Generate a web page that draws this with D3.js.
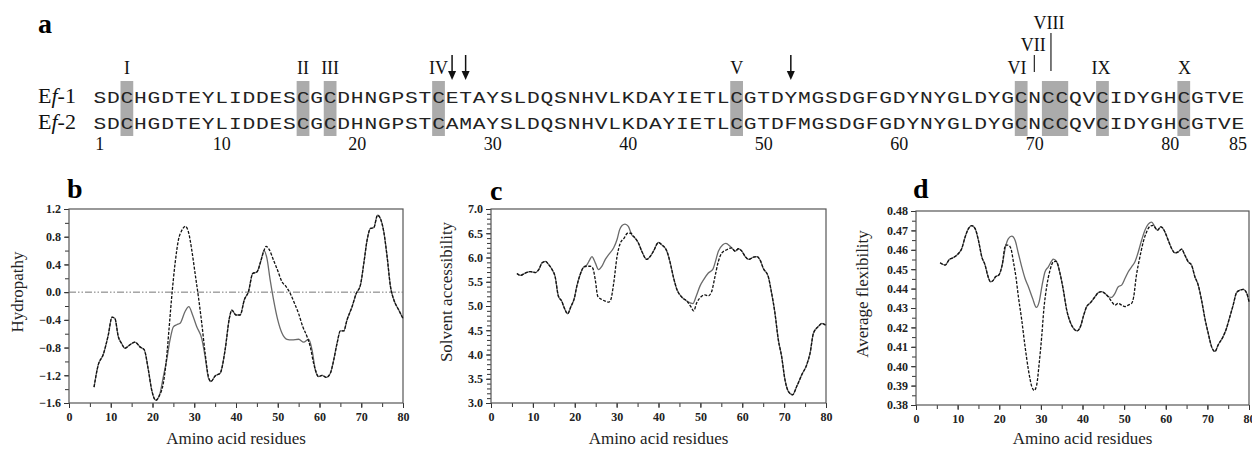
<!DOCTYPE html>
<html>
<head>
<meta charset="utf-8">
<script src="https://cdn.jsdelivr.net/npm/d3@7"></script>
<style>
  body { margin: 0; background: #fff; }
  svg { display: block; }
  .tick text { font-family: "Liberation Serif", serif; font-weight: bold; font-size: 12px; fill: #222; }
</style>
</head>
<body>
<div id="chart"></div>
<script>
// ---- panel a : sequence alignment ----
const seqEf1 = "SDCHGDTEYLIDDESCGCDHNGPSTCETAYSLDQSNHVLKDAYIETLCGTDYMGSDGFGDYNYGLDYGCNCCQVCIDYGHCGTVE";
const seqEf2 = "SDCHGDTEYLIDDESCGCDHNGPSTCAMAYSLDQSNHVLKDAYIETLCGTDFMGSDGFGDYNYGLDYGCNCCQVCIDYGHCGTVE";
const cysBoxes = [[3, 3], [16, 16], [18, 18], [26, 26], [48, 48], [69, 69], [71, 72], [75, 75], [81, 81]];
const romanLabels = ["I", "II", "III", "IV", "V", "VI", "VII", "VIII", "IX", "X"];
const romanPos = [3, 16, 18, 26, 48, 68.7, 69.9, 71.05, 74.9, 81.05];
const arrowPos = [27, 28, 52];
const seqNumbers = [1, 10, 20, 30, 40, 50, 60, 70, 80, 85];

// ---- panel b : hydropathy ----
const hydroEf1 = [[6,-1.37],[7,-1.05],[8.2,-0.9],[9.4,-0.62],[10.3,-0.36],[11,-0.38],[11.8,-0.64],[12.6,-0.74],
  [13.4,-0.81],[14.6,-0.76],[15.8,-0.72],[17,-0.79],[18,-0.83],[19,-1.12],[19.8,-1.41],[20.8,-1.56],[21.8,-1.46],
  [22.6,-1.22],[23.4,-0.98],[24.2,-0.69],[25,-0.5],[25.8,-0.47],[26.6,-0.45],[27.8,-0.28],[28.7,-0.21],[29.6,-0.33],
  [30.6,-0.5],[31.8,-0.67],[32.6,-0.93],[33.4,-1.24],[34,-1.29],[35,-1.21],[36.2,-1.17],[37.4,-0.83],[38.4,-0.38],
  [39,-0.26],[40,-0.33],[41,-0.33],[42,-0.11],[43,0.01],[44,0.27],[45,0.29],[46,0.46],[46.7,0.6],[47.4,0.49],
  [48.2,0.17],[49,-0.11],[50,-0.4],[51,-0.59],[52.2,-0.68],[53.4,-0.69],[55,-0.68],[56.2,-0.72],[57.4,-0.68],
  [58.2,-0.83],[59,-1.12],[59.8,-1.22],[60.6,-1.2],[61.6,-1.23],[62.6,-1.17],[63.4,-0.98],[64.2,-0.74],[65,-0.56],
  [65.8,-0.56],[66.6,-0.4],[67.8,-0.21],[68.8,-0.02],[69.8,0.1],[70.6,0.41],[71.4,0.75],[72.2,0.92],[73,0.93],
  [73.9,1.11],[74.6,1.06],[75.4,0.87],[76.2,0.51],[77,0.08],[77.8,-0.11],[79,-0.26],[80,-0.38]];
const hydroEf2Diff = [[21.6,-1.5],[22.6,-1.31],[23.4,-0.93],[24,-0.5],[24.6,-0.07],[25.4,0.41],[26.2,0.75],
  [27,0.89],[27.9,0.95],[28.6,0.87],[29.4,0.61],[30.2,0.27],[31,-0.07],[31.8,-0.45],[32.6,-0.88],[33.4,-1.22],
  [47.2,0.66],[48,0.61],[49,0.46],[50,0.31],[51,0.15],[52,0.08],[53,-0.02],[54,-0.16],[55,-0.31],[56,-0.5],
  [57,-0.64],[57.8,-0.79],[58.6,-1.03]];
const hydroYTicks = [-1.6, -1.2, -0.8, -0.4, 0.0, 0.4, 0.8, 1.2];

// ---- panel c : solvent accessibility ----
const solvEf1 = [[6.2,5.67],[7,5.63],[8.2,5.68],[9.4,5.71],[10.6,5.69],[11.4,5.75],[12.2,5.89],[13,5.92],[13.8,5.85],
  [14.6,5.75],[15.3,5.61],[16.1,5.2],[16.9,5.1],[17.5,4.96],[18.3,4.84],[19.1,4.99],[19.9,5.16],[20.5,5.41],
  [21.3,5.65],[22.1,5.8],[22.9,5.85],[23.5,5.94],[24.1,6.02],[24.9,5.89],[25.7,5.75],[26.5,5.82],[27.3,5.96],
  [28.1,6.06],[29.3,6.2],[30.1,6.37],[30.7,6.57],[31.3,6.66],[32,6.69],[32.8,6.64],[33.6,6.47],[34.4,6.4],
  [35.2,6.3],[36,6.13],[37.2,5.96],[38,6.02],[38.8,6.13],[40,6.31],[40.8,6.26],[42,6.13],[42.8,5.89],[43.6,5.58],
  [44.4,5.34],[45.6,5.18],[46.8,5.1],[47.7,5.06],[48.2,5.05],[49,5.2],[49.9,5.41],[50.9,5.56],[51.9,5.68],[53,5.76],
  [53.5,5.89],[54.3,6.13],[55.3,6.26],[56.1,6.29],[57.1,6.23],[57.9,6.16],[58.3,6.13],[59.1,6.18],[59.9,6.13],
  [60.7,6.02],[61.5,5.96],[62.7,6.01],[63.5,6.02],[64.3,5.94],[65,5.78],[66.2,5.61],[67,5.27],[67.8,4.86],
  [68.6,4.31],[69.4,3.96],[70.2,3.48],[71,3.24],[72,3.17],[73,3.34],[74.2,3.58],[75.4,3.79],[76.2,4.03],[77,4.44],
  [78.2,4.58],[79,4.64],[80,4.6]];
const solvEf2Diff = [[22.9,5.82],[23.7,5.82],[24.3,5.78],[24.9,5.54],[25.5,5.2],[26.5,5.13],[27.3,5.1],[28.1,5.08],
  [28.6,5.13],[29.3,5.47],[30.1,6.02],[30.9,6.3],[31.8,6.4],[32.6,6.5],[33.4,6.5],[34,6.44],
  [47.7,4.99],[48.4,4.9],[49.1,5.06],[50.3,5.2],[51.1,5.23],[51.9,5.21],[52.7,5.3],[53.5,5.61],[54.3,5.92],
  [55.1,6.09],[56.3,6.16],[57.5,6.2]];
const solvYTicks = [3.0, 3.5, 4.0, 4.5, 5.0, 5.5, 6.0, 6.5, 7.0];

// ---- panel d : average flexibility ----
const flexEf1 = [[5.8,0.4533],[7,0.4521],[8,0.455],[9,0.456],[10.2,0.4581],[11,0.4607],[11.8,0.4666],[12.6,0.4709],
  [13.4,0.4725],[14.2,0.4709],[15,0.4649],[15.8,0.4564],[16.6,0.4521],[17.2,0.447],[17.9,0.4435],[18.6,0.4444],
  [19.1,0.4461],[19.9,0.447],[20.7,0.4521],[21.5,0.4615],[22.2,0.4658],[23,0.467],[23.8,0.4649],[24.6,0.4581],
  [25.4,0.4512],[26.2,0.4452],[27,0.441],[28,0.435],[28.9,0.4303],[29.6,0.4333],[30.3,0.4418],[31,0.4487],
  [31.8,0.4512],[32.6,0.4543],[33,0.4552],[33.8,0.4538],[34.6,0.4478],[35.4,0.4392],[36.2,0.429],[37,0.423],
  [37.8,0.4196],[38.7,0.4182],[39.5,0.4204],[40.3,0.4264],[41,0.4307],[41.9,0.4327],[43,0.4358],[43.8,0.4379],
  [44.6,0.4384],[45.4,0.4375],[46.2,0.4358],[47,0.4355],[47.8,0.4375],[48.6,0.441],[49.4,0.4418],[50.2,0.4452],
  [51,0.4487],[51.8,0.4512],[52.6,0.4538],[53.4,0.4589],[54.2,0.4649],[55,0.4701],[55.8,0.4732],[56.6,0.4743],
  [57.4,0.4718],[58,0.4701],[58.8,0.4718],[59.2,0.4714],[59.8,0.4692],[60.6,0.4649],[61.4,0.4607],[62.2,0.4584],
  [63,0.4589],[63.8,0.4603],[64.6,0.4572],[65.4,0.4538],[66.2,0.4521],[67,0.4461],[67.8,0.4418],[68.6,0.4341],
  [69.4,0.4247],[70.2,0.417],[71,0.4101],[71.8,0.4076],[72.6,0.411],[73.8,0.4153],[74.6,0.4196],[75.4,0.4255],
  [76.2,0.4315],[77,0.4379],[77.8,0.4392],[78.6,0.4396],[79.4,0.4379],[80,0.4333]];
const flexEf2Diff = [[21.5,0.4624],[22.2,0.4624],[22.8,0.4607],[23.4,0.4538],[24,0.4461],[24.6,0.4358],[25.4,0.4238],
  [26.2,0.4101],[27,0.3982],[27.8,0.3896],[28.4,0.3875],[29,0.3904],[29.6,0.4016],[30.2,0.4153],[30.7,0.429],
  [31.4,0.441],[32.2,0.4495],[33,0.4538],[33.6,0.4541],
  [47,0.4333],[47.8,0.4315],[48.6,0.4324],[49.4,0.4315],[50.2,0.4307],[51,0.4315],[51.8,0.4324],[52.3,0.4358],
  [52.9,0.4461],[53.8,0.4564],[54.6,0.4641],[55.4,0.4692],[56.2,0.4721],[57,0.4726],[57.6,0.4709]];
const flexYTicks = [0.38, 0.39, 0.40, 0.41, 0.42, 0.43, 0.44, 0.45, 0.46, 0.47, 0.48];

const xTicks = [0, 10, 20, 30, 40, 50, 60, 70, 80];

// Ef-2 = Ef-1 outside the differing stretches, own values inside them
function mergeSeries(base, diff) {
  // group diff into runs separated by a gap > 3 residues
  let runs = [], cur = [diff[0]];
  for (let i = 1; i < diff.length; i++) {
    if (diff[i][0] - diff[i - 1][0] > 3) { runs.push(cur); cur = []; }
    cur.push(diff[i]);
  }
  runs.push(cur);
  let kept = base.filter(p => !runs.some(r => p[0] >= r[0][0] && p[0] <= r[r.length - 1][0]));
  return kept.concat(diff).sort((a, b) => a[0] - b[0]);
}

const W = 1252, H = 450;
const svg = d3.select("#chart").append("svg").attr("width", W).attr("height", H);
const serif = "'Liberation Serif', 'Times New Roman', serif";

// ---------- panel a ----------
const seqX = d3.scaleLinear().domain([0, 85]).range([93, 93 + 85 * 13.55]);
const cx = i => seqX(i - 0.5);
const gA = svg.append("g");

gA.append("text").attr("x", 38).attr("y", 33).style("font-family", serif).style("font-weight", "bold")
  .style("font-size", "28px").text("a");

gA.selectAll("rect.box").data(cysBoxes).enter().append("rect")
  .attr("class", "box")
  .attr("x", d => seqX(d[0] - 1) + 0.4)
  .attr("width", d => seqX(d[1]) - seqX(d[0] - 1) - 0.8)
  .attr("y", 81).attr("height", 55)
  .attr("fill", "#ababab");

[[seqEf1, 103, "1"], [seqEf2, 129, "2"]].forEach(([seq, yb, n]) => {
  const lab = gA.append("text").attr("x", 38).attr("y", yb).style("font-family", serif)
    .style("font-size", "22px").attr("fill", "#111");
  lab.append("tspan").text("E");
  lab.append("tspan").style("font-style", "italic").text("f");
  lab.append("tspan").text("-" + n);

  gA.selectAll(null).data(seq.split("")).enter().append("text")
    .attr("transform", (d, i) => `translate(${cx(i + 1)},${yb}) scale(1.25,1)`)
    .attr("text-anchor", "middle")
    .style("font-family", "'Liberation Mono', 'Courier New', monospace")
    .style("font-size", "17px")
    .attr("fill", "#222")
    .text(d => d);
});

gA.selectAll("text.num").data(seqNumbers).enter().append("text")
  .attr("class", "num")
  .attr("x", d => cx(d)).attr("y", 150)
  .attr("text-anchor", "middle")
  .style("font-family", serif).style("font-size", "18px").attr("fill", "#111")
  .text(d => d);

const romanY = { "VII": 51, "VIII": 29 };
gA.selectAll("text.roman").data(romanLabels).enter().append("text")
  .attr("class", "roman")
  .attr("x", (d, i) => cx(romanPos[i]))
  .attr("y", d => romanY[d] || 74)
  .attr("text-anchor", "middle")
  .style("font-family", serif).style("font-size", "18px").attr("fill", "#111")
  .text(d => d);

// leader lines for VII and VIII
gA.append("line").attr("x1", cx(romanPos[6]) + 1).attr("x2", cx(romanPos[6]) + 1)
  .attr("y1", 55).attr("y2", 72).attr("stroke", "#333").attr("stroke-width", 1.3);
gA.append("line").attr("x1", cx(romanPos[7]) + 2).attr("x2", cx(romanPos[7]) + 2)
  .attr("y1", 33).attr("y2", 71).attr("stroke", "#333").attr("stroke-width", 1.3);

// arrows
const arr = gA.selectAll("g.arrow").data(arrowPos).enter().append("g")
  .attr("transform", d => `translate(${cx(d)},0)`);
arr.append("line").attr("x1", 0).attr("x2", 0).attr("y1", 55).attr("y2", 74)
  .attr("stroke", "#111").attr("stroke-width", 1.5);
arr.append("path").attr("d", "M-4,71 L4,71 L0,80 Z").attr("fill", "#111");

// ---------- line panels ----------
const panels = [
  { letter: "b", ef1: hydroEf1, ef2: hydroEf2Diff, yDomain: [-1.6, 1.2], yTicks: hydroYTicks, minor: 0.2,
    fmt: d3.format(".1f"), left: 69, right: 403, top: 209, bottom: 403, ylabel: "Hydropathy", ylabX: 18,
    letterX: 67, letterY: 198, zero: true },
  { letter: "c", ef1: solvEf1, ef2: solvEf2Diff, yDomain: [3.0, 7.0], yTicks: solvYTicks, minor: 0.1,
    fmt: d3.format(".1f"), left: 491, right: 826, top: 209, bottom: 403, ylabel: "Solvent accessibility", ylabX: 447,
    letterX: 490, letterY: 200 },
  { letter: "d", ef1: flexEf1, ef2: flexEf2Diff, yDomain: [0.38, 0.48], yTicks: flexYTicks, minor: 0.005,
    fmt: d3.format(".2f"), left: 916, right: 1249, top: 211, bottom: 405, ylabel: "Average flexibility", ylabX: 863,
    letterX: 913, letterY: 198 }
];

panels.forEach(p => {
  const x = d3.scaleLinear().domain([0, 80]).range([p.left, p.right]);
  const y = d3.scaleLinear().domain(p.yDomain).range([p.bottom, p.top]);
  const g = svg.append("g");

  g.append("text").attr("x", p.letterX).attr("y", p.letterY).style("font-family", serif)
    .style("font-weight", "bold").style("font-size", "28px").text(p.letter);

  // minor ticks
  const xMinor = d3.range(0, 81, 5);
  g.append("g").attr("transform", `translate(0,${p.bottom})`)
    .call(d3.axisBottom(x).tickValues(xMinor).tickSize(4).tickFormat(""))
    .call(a => a.select(".domain").remove())
    .call(a => a.selectAll("line").attr("stroke", "#333"));
  const n = Math.round((p.yDomain[1] - p.yDomain[0]) / p.minor);
  const yMinor = d3.range(n + 1).map(i => p.yDomain[0] + i * p.minor);
  g.append("g").attr("transform", `translate(${p.left},0)`)
    .call(d3.axisLeft(y).tickValues(yMinor).tickSize(4).tickFormat(""))
    .call(a => a.select(".domain").remove())
    .call(a => a.selectAll("line").attr("stroke", "#333"));

  // major axes
  g.append("g").attr("transform", `translate(0,${p.bottom})`)
    .call(d3.axisBottom(x).tickValues(xTicks).tickSize(5).tickPadding(4).tickFormat(d3.format("d")))
    .call(a => a.select(".domain").remove())
    .call(a => a.selectAll("line").attr("stroke", "#333"));
  g.append("g").attr("transform", `translate(${p.left},0)`)
    .call(d3.axisLeft(y).tickValues(p.yTicks).tickSize(5).tickPadding(3).tickFormat(d => p.fmt(d).replace("-", "\u2212")))
    .call(a => a.select(".domain").remove())
    .call(a => a.selectAll("line").attr("stroke", "#333"));

  // frame
  g.append("rect").attr("x", p.left).attr("y", p.top)
    .attr("width", p.right - p.left).attr("height", p.bottom - p.top)
    .attr("fill", "none").attr("stroke", "#555").attr("stroke-width", 1.2);

  if (p.zero) {
    g.append("line").attr("x1", x(0)).attr("x2", x(80)).attr("y1", y(0)).attr("y2", y(0))
      .attr("stroke", "#777").attr("stroke-width", 1).attr("stroke-dasharray", "7,2,1.5,2,1.5,2");
  }

  const line = d3.line().x(d => x(d[0])).y(d => y(d[1])).curve(d3.curveMonotoneX);
  g.append("path").datum(p.ef1).attr("d", line)
    .attr("fill", "none").attr("stroke", "#6a6a6a").attr("stroke-width", 1.3);
  g.append("path").datum(mergeSeries(p.ef1, p.ef2)).attr("d", line)
    .attr("fill", "none").attr("stroke", "#111").attr("stroke-width", 1.3).attr("stroke-dasharray", "3,1.5");

  // labels
  g.append("text").attr("x", (p.left + p.right) / 2).attr("y", 444).attr("text-anchor", "middle")
    .style("font-family", serif).style("font-size", "17px").attr("fill", "#222").text("Amino acid residues");
  g.append("text").attr("transform", `translate(${p.ylabX + 5},${(p.top + p.bottom) / 2 - 14}) rotate(-90)`)
    .attr("text-anchor", "middle")
    .style("font-family", serif).style("font-size", "17px").attr("fill", "#222").text(p.ylabel);
});
</script>
</body>
</html>
